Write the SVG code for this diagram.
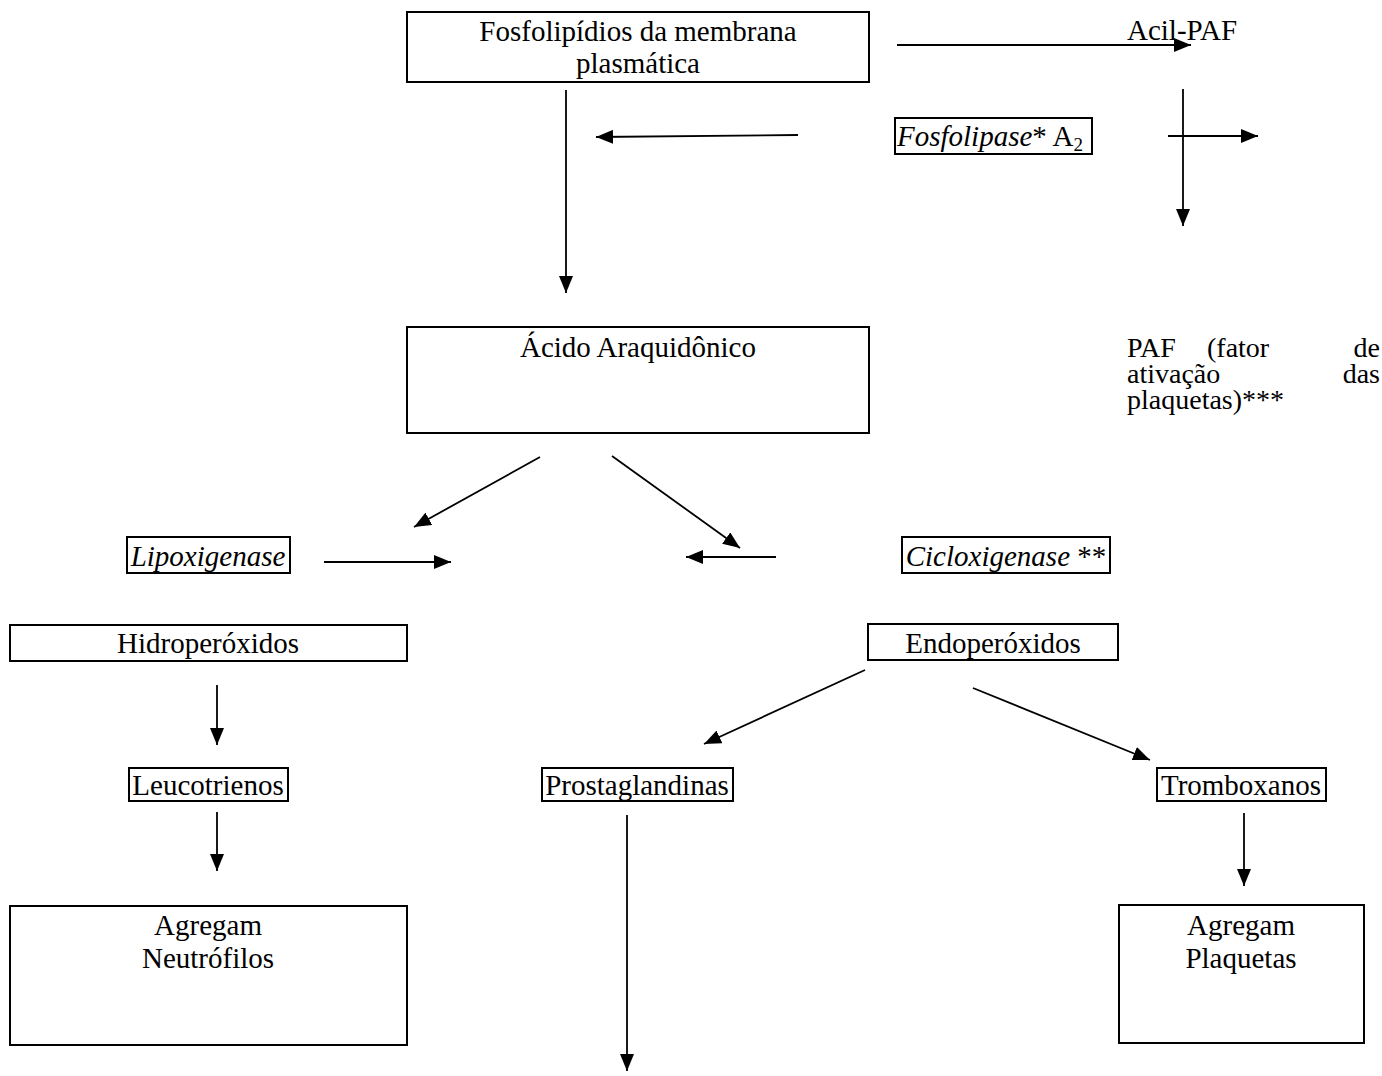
<svg xmlns="http://www.w3.org/2000/svg" width="1382" height="1076" viewBox="0 0 1382 1076">
<style>
text{font-family:"Liberation Serif","Times New Roman",serif;font-size:29px;fill:#000}
.c{text-anchor:middle}
.i{font-style:italic}
.p{font-size:28px}
.box{fill:none;stroke:#000;stroke-width:2}
.ln{fill:none;stroke:#000;stroke-width:1.8;marker-end:url(#ah)}
</style>
<defs>
<marker id="ah" markerUnits="userSpaceOnUse" markerWidth="18" markerHeight="14" refX="17" refY="7" orient="auto">
<path d="M0,0 L17,7 L0,14 Z" fill="#000"/>
</marker>
</defs>
<rect width="1382" height="1076" fill="#fff"/>
<g id="connectors">
<line class="ln" x1="897" y1="45" x2="1191" y2="45"/>
<line class="ln" x1="1183" y1="89" x2="1183" y2="226"/>
<line class="ln" x1="1168" y1="136" x2="1258" y2="136"/>
<line class="ln" x1="798" y1="135" x2="596" y2="137"/>
<line class="ln" x1="566" y1="90" x2="566" y2="293"/>
<line class="ln" x1="540" y1="457" x2="414" y2="527"/>
<line class="ln" x1="612" y1="456" x2="740" y2="548"/>
<line class="ln" x1="324" y1="562" x2="451" y2="562"/>
<line class="ln" x1="776" y1="557" x2="686" y2="557"/>
<line class="ln" x1="217" y1="685" x2="217" y2="745"/>
<line class="ln" x1="217" y1="812" x2="217" y2="871"/>
<line class="ln" x1="865" y1="670" x2="704" y2="744"/>
<line class="ln" x1="973" y1="688" x2="1150" y2="760"/>
<line class="ln" x1="627" y1="815" x2="627" y2="1071"/>
<line class="ln" x1="1244" y1="813" x2="1244" y2="886"/>
</g>
<g id="fosfolipidios">
<rect class="box" x="407" y="12" width="462" height="70"/>
<text class="c" x="638" y="41">Fosfolipídios da membrana</text>
<text class="c" x="638" y="73">plasmática</text>
</g>
<g id="acil-paf">
<text x="1127" y="40">Acil-PAF</text>
</g>
<g id="fosfolipase">
<rect class="box" x="895" y="118" width="197" height="36"/>
<text x="897" y="146"><tspan class="i">Fosfolipase</tspan>* A<tspan font-size="19" dy="5">2</tspan></text>
</g>
<g id="paf">
<text class="p" x="1127" y="357">PAF</text>
<text class="p" x="1207" y="357">(fator</text>
<text class="p" x="1380" y="357" text-anchor="end">de</text>
<text class="p" x="1127" y="383">ativação</text>
<text class="p" x="1380" y="383" text-anchor="end">das</text>
<text class="p" x="1127" y="409">plaquetas)***</text>
</g>
<g id="acido">
<rect class="box" x="407" y="327" width="462" height="106"/>
<text class="c" x="638" y="357">Ácido Araquidônico</text>
</g>
<g id="lipoxigenase">
<rect class="box" x="127" y="537" width="163" height="36"/>
<text class="c i" x="208" y="566">Lipoxigenase</text>
</g>
<g id="cicloxigenase">
<rect class="box" x="902" y="537" width="208" height="36"/>
<text class="c" x="1006" y="566"><tspan class="i">Cicloxigenase</tspan> **</text>
</g>
<g id="hidroperoxidos">
<rect class="box" x="10" y="625" width="397" height="36"/>
<text class="c" x="208" y="653">Hidroperóxidos</text>
</g>
<g id="endoperoxidos">
<rect class="box" x="868" y="624" width="250" height="36"/>
<text class="c" x="993" y="653">Endoperóxidos</text>
</g>
<g id="leucotrienos">
<rect class="box" x="129" y="768" width="159" height="33"/>
<text class="c" x="208" y="795">Leucotrienos</text>
</g>
<g id="prostaglandinas">
<rect class="box" x="542" y="768" width="191" height="33"/>
<text class="c" x="637" y="795">Prostaglandinas</text>
</g>
<g id="tromboxanos">
<rect class="box" x="1157" y="768" width="169" height="33"/>
<text class="c" x="1241" y="795">Tromboxanos</text>
</g>
<g id="neutrofilos">
<rect class="box" x="10" y="906" width="397" height="139"/>
<text class="c" x="208" y="935">Agregam</text>
<text class="c" x="208" y="968">Neutrófilos</text>
</g>
<g id="plaquetas">
<rect class="box" x="1119" y="905" width="245" height="138"/>
<text class="c" x="1241" y="935">Agregam</text>
<text class="c" x="1241" y="968">Plaquetas</text>
</g>
</svg>
